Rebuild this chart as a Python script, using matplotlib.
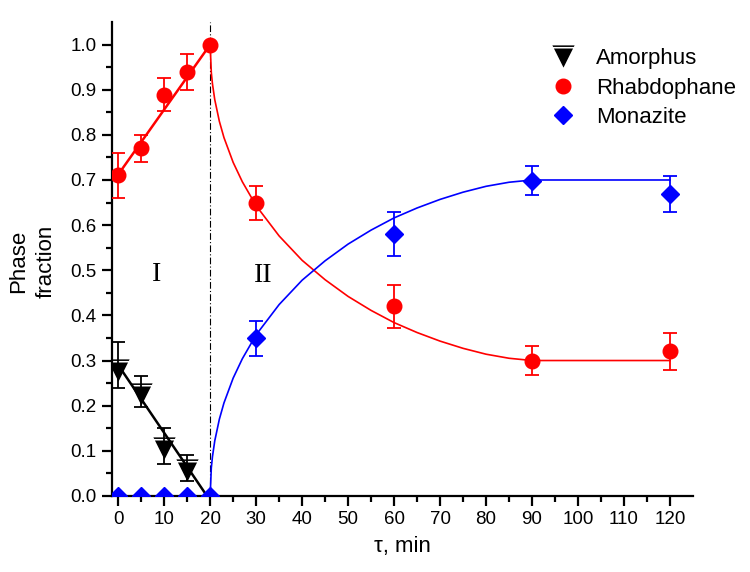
import numpy as np
import matplotlib
matplotlib.use('Agg')
import matplotlib.pyplot as plt
from matplotlib.lines import Line2D
from matplotlib.path import Path

plt.rcParams['font.family'] = ['Liberation Sans', 'DejaVu Sans']

# measured points
TIME_EARLY = [0, 5, 10, 15]
AMO_Y = [0.28, 0.225, 0.107, 0.058]
AMO_LO = [0.24, 0.197, 0.07, 0.033]
AMO_HI = [0.34, 0.265, 0.15, 0.09]

RHAB_X = [0, 5, 10, 15, 20, 30, 60, 90, 120]
RHAB_Y = [0.71, 0.77, 0.888, 0.94, 1.0, 0.65, 0.42, 0.30, 0.32]
RHAB_LO = [0.66, 0.739, 0.853, 0.90, 1.0, 0.612, 0.372, 0.268, 0.28]
RHAB_HI = [0.76, 0.80, 0.926, 0.979, 1.0, 0.687, 0.467, 0.332, 0.36]

MON_X = [0, 5, 10, 15, 20, 30, 60, 90, 120]
MON_Y = [0.0, 0.0, 0.0, 0.0, 0.0, 0.35, 0.58, 0.698, 0.67]
MON_LO = [0.0, 0.0, 0.0, 0.0, 0.0, 0.31, 0.531, 0.667, 0.63]
MON_HI = [0.0, 0.0, 0.0, 0.0, 0.0, 0.388, 0.629, 0.731, 0.709]

# fitted lines
AMO_LINE_X = [0, 19.3]
AMO_LINE_Y = [0.29, 0.0]
RHAB_LINE_X = [0, 20]
RHAB_LINE_Y = [0.712, 1.0]

CURVE_X = [20, 20.25, 20.5, 21, 22, 23, 25, 27, 30, 35, 40, 45, 50, 55,
           60, 65, 70, 75, 80, 85, 90, 120]
RHAB_CURVE = [1.0, 0.938, 0.913, 0.878, 0.830, 0.794, 0.739, 0.696, 0.643,
              0.576, 0.522, 0.479, 0.442, 0.411, 0.384, 0.362, 0.343, 0.327,
              0.314, 0.305, 0.300, 0.300]
MON_CURVE = [0.0, 0.062, 0.087, 0.122, 0.170, 0.206, 0.261, 0.304, 0.357,
             0.424, 0.478, 0.521, 0.558, 0.589, 0.616, 0.638, 0.657, 0.673,
             0.686, 0.695, 0.700, 0.700]

STAGE_BOUNDARY = 20
LABELS = ['Amorphus', 'Rhabdophane', 'Monazite']


def amorphus_marker():
    """Down triangle with a white stripe near the top."""
    def band(y0, y1):
        return [(-(y0 + 1) / 2, y0), ((y0 + 1) / 2, y0),
                ((y1 + 1) / 2, y1), (-(y1 + 1) / 2, y1), (0, 0)]
    verts = band(1.0, 0.86) + band(0.72, -1.0)
    codes = [Path.MOVETO, Path.LINETO, Path.LINETO, Path.LINETO, Path.CLOSEPOLY] * 2
    return Path(verts, codes)


def yerr(y, lo, hi):
    y = np.asarray(y)
    return [y - np.asarray(lo), np.asarray(hi) - y]


fig = plt.figure(figsize=(7.5, 5.72), dpi=100)
ax = fig.add_axes([0.149, 0.133, 0.775, 0.8285])

tri = amorphus_marker()

ax.axvline(STAGE_BOUNDARY, color='black', lw=0.8, dashes=(6, 2, 1, 2), zorder=1)

ax.plot(AMO_LINE_X, AMO_LINE_Y, color='black', lw=1.8, zorder=2)
ax.plot(RHAB_LINE_X, RHAB_LINE_Y, color='red', lw=1.8, zorder=2)
ax.plot(CURVE_X, RHAB_CURVE, color='red', lw=1.2, zorder=2)
ax.plot(CURVE_X, MON_CURVE, color='blue', lw=1.2, zorder=2)

ax.errorbar(TIME_EARLY, AMO_Y, yerr=yerr(AMO_Y, AMO_LO, AMO_HI), fmt='none',
            ecolor='black', elinewidth=1.3, capsize=5, capthick=1.3, zorder=3)
ax.plot(TIME_EARLY, AMO_Y, ls='none', marker=tri, ms=16, mfc='black',
        mec='black', mew=0, zorder=4)

ax.errorbar(RHAB_X, RHAB_Y, yerr=yerr(RHAB_Y, RHAB_LO, RHAB_HI), fmt='none',
            ecolor='red', elinewidth=1.3, capsize=5, capthick=1.3, zorder=3)
ax.plot(RHAB_X, RHAB_Y, ls='none', marker='o', ms=10.5, mfc='red', mec='red',
        zorder=4)

ax.errorbar(MON_X, MON_Y, yerr=yerr(MON_Y, MON_LO, MON_HI), fmt='none',
            ecolor='blue', elinewidth=1.3, capsize=5, capthick=1.3, zorder=3)
ax.plot(MON_X, MON_Y, ls='none', marker='D', ms=9.5, mfc='blue', mec='blue',
        zorder=4)

ax.text(8.3, 0.49, 'I', family=['Liberation Serif'], fontsize=20,
        ha='center', va='center')
ax.text(31.5, 0.489, 'II', family=['Liberation Serif'], fontsize=20,
        ha='center', va='center')

ax.set_xlim(-1.4, 125)
ax.set_ylim(0, 1.05)
ax.set_xticks(np.arange(0, 121, 10))
ax.set_xticks(np.arange(5, 125, 10), minor=True)
ax.set_yticks(np.arange(0, 1.01, 0.1))
ax.set_yticks(np.arange(0.05, 1.05, 0.1), minor=True)
ax.yaxis.set_major_formatter(matplotlib.ticker.FormatStrFormatter('%.1f'))

for side in ('top', 'right'):
    ax.spines[side].set_visible(False)
for side in ('left', 'bottom'):
    ax.spines[side].set_linewidth(1.6)
ax.tick_params(which='major', direction='out', length=7, width=1.6,
               labelsize=13.5, pad=4)
ax.tick_params(which='minor', direction='out', length=4, width=1.6)

ax.set_xlabel('\u03c4, min', fontsize=16)
ax.xaxis.set_label_coords(0.5, -0.085)
ax.set_ylabel('Phase\nfraction', fontsize=16, linespacing=1.45)
ax.yaxis.set_label_coords(-0.094, 0.494)

handles = [
    Line2D([], [], ls='none', marker=tri, ms=16, mfc='black', mec='black', mew=0),
    Line2D([], [], ls='none', marker='o', ms=10.5, mfc='red', mec='red'),
    Line2D([], [], ls='none', marker='D', ms=9.5, mfc='blue', mec='blue'),
]
ax.legend(handles, LABELS, loc='upper left', bbox_to_anchor=(0.712, 0.943),
          bbox_transform=fig.transFigure, frameon=False, fontsize=16,
          handlelength=1.2, handletextpad=0.9, labelspacing=0.38,
          borderpad=0.2)

fig.savefig('out.png', dpi=100)
